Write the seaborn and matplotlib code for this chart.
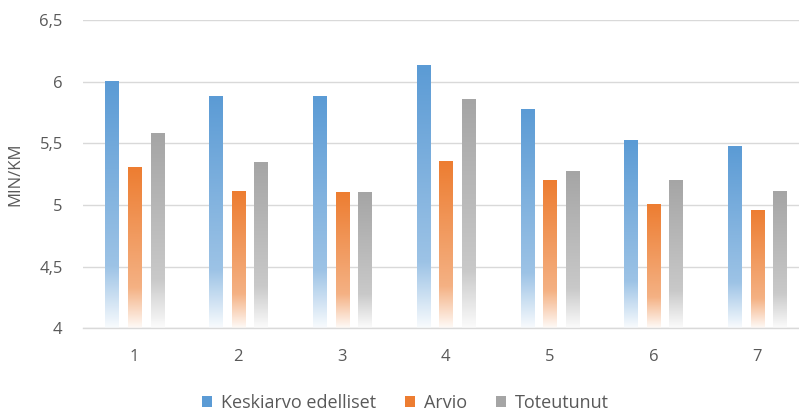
#-----------------------------------------------------------------------------------------------------------------------
# Juoksuvauhti kierroksittain: aiempien keskiarvo, arvio ja toteutunut (min/km)
#-----------------------------------------------------------------------------------------------------------------------

from matplotlib import pyplot as plt
from matplotlib.patches import Patch
from matplotlib.colors import to_rgb

import seaborn as sns
import pandas as pd
import numpy as np

kierrokset = ['1', '2', '3', '4', '5', '6', '7']
keskiarvo = [6.00, 5.88, 5.88, 6.13, 5.77, 5.52, 5.47]
arvio = [5.30, 5.11, 5.10, 5.35, 5.20, 5.00, 4.95]
toteutunut = [5.58, 5.34, 5.10, 5.85, 5.27, 5.20, 5.11]

sarjat = ['Keskiarvo edelliset', 'Arvio', 'Toteutunut']
varit = ['#5B9BD5', '#ED7D31', '#A5A5A5']

y_tikit = [4, 4.5, 5, 5.5, 6, 6.5]
y_tikki_tekstit = ['4', '4,5', '5', '5,5', '6', '6,5']

#Pitkä taulukko seabornia varten
df = pd.DataFrame({
    'kierros': kierrokset * 3,
    'min_km': keskiarvo + arvio + toteutunut,
    'sarja': [s for s in sarjat for _ in kierrokset]
})

plt.rcParams['font.family'] = ['Open Sans', 'DejaVu Sans']
teksti_vari = '#595959'
ruudukko_vari = '#D9D9D9'

fig = plt.figure(figsize = (7.99, 4.12), dpi = 100)
ax = fig.add_axes([0.1035, 0.2032, 0.909, 0.7483])

sns.barplot(data = df, x = 'kierros', y = 'min_km', hue = 'sarja', hue_order = sarjat,
            palette = varit, width = 0.652, gap = 0.42, errorbar = None, legend = False, ax = ax)

ala, yla = y_tikit[0], y_tikit[-1]

#Liukuväri jokaiseen palkkiin (ylhäällä täysi väri, alhaalla lähes valkoinen)
def liukuvari(vari, n = 256):
    c = np.array(to_rgb(vari))
    t = np.linspace(0, 1, n)
    osuus = np.interp(t, [0, 0.25, 1], [0.04, 0.6, 1.0])
    rivit = 1 - osuus[:, None] * (1 - c[None, :])
    return rivit[:, None, :]

for i, palkki in enumerate(ax.patches):
    vari = varit[i // len(kierrokset)]
    x0 = palkki.get_x()
    w = palkki.get_width()
    h = palkki.get_y() + palkki.get_height()
    ax.imshow(liukuvari(vari), extent = (x0, x0 + w, ala, h), origin = 'lower',
              aspect = 'auto', interpolation = 'bilinear', zorder = 2)
    palkki.set_facecolor('none')
    palkki.set_edgecolor('none')

ax.set_xlim(-0.5, 6.5)
ax.set_ylim(ala, yla)
ax.set_yticks(y_tikit)
ax.set_yticklabels(y_tikki_tekstit)

ax.grid(axis = 'y', color = ruudukko_vari, linewidth = 1, zorder = 0)
ax.set_axisbelow(True)
for s in ['top', 'right', 'left']:
    ax.spines[s].set_visible(False)
ax.spines['bottom'].set_color(ruudukko_vari)
ax.spines['bottom'].set_linewidth(1)

ax.tick_params(axis = 'both', length = 0, labelsize = 12, labelcolor = teksti_vari)
ax.tick_params(axis = 'y', pad = 14.4)
ax.tick_params(axis = 'x', pad = 15)

ax.set_xlabel('')
ax.set_ylabel('MIN/KM', fontsize = 12, color = teksti_vari, va = 'center')
ax.yaxis.set_label_coords(-0.093, 0.5)

#Selite alareunaan
kahvat = [Patch(facecolor = v, edgecolor = 'none') for v in varit]
fig.legend(kahvat, sarjat, loc = 'center', bbox_to_anchor = (0.508, 0.022), ncol = 3, frameon = False,
           fontsize = 13, labelcolor = teksti_vari, handlelength = 0.55, handleheight = 0.55,
           handletextpad = 0.5, columnspacing = 1.6)

plt.savefig('out.png', dpi = 100)
